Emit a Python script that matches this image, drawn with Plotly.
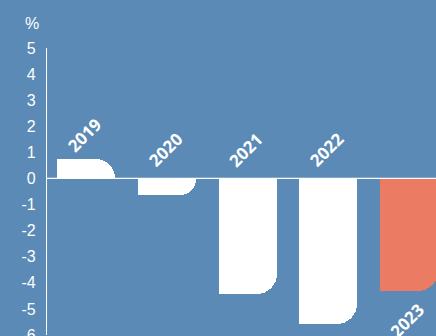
import plotly.graph_objects as go

# Annual change, %
years = ["2019", "2020", "2021", "2022", "2023"]
values = [0.75, -0.65, -4.43, -5.57, -4.31]
bar_colors = ["#ffffff", "#ffffff", "#ffffff", "#ffffff", "#ec7b63"]
y_ticks = [5, 4, 3, 2, 1, 0, -1, -2, -3, -4, -5, -6]

BG = "#5a8ab5"
BAR_W = 0.72
x_pos = list(range(len(years)))

W, H = 436, 336
M = dict(l=47, r=0, t=48, b=1)
pw, ph = W - M["l"] - M["r"], H - M["t"] - M["b"]

fig = go.Figure()

# Main bars: rounded corners at the bar end
fig.add_trace(go.Bar(
    x=x_pos, y=values,
    width=BAR_W, offset=-BAR_W / 2,
    marker=dict(color=bar_colors, line=dict(width=0), cornerradius=20),
    hoverinfo="skip", showlegend=False,
))
# Left half drawn square so only the right corner stays rounded
fig.add_trace(go.Bar(
    x=x_pos, y=values,
    width=BAR_W / 2, offset=-BAR_W / 2,
    marker=dict(color=bar_colors, line=dict(width=0)),
    hoverinfo="skip", showlegend=False,
))

# Year labels, rotated
annotations = []
for i, (yr, v) in enumerate(zip(years, values)):
    if i == len(years) - 1:
        y, shift = v, -30
    else:
        y, shift = max(v, 0), (24 if v > 0 else 29)
    annotations.append(dict(
        x=i - 0.02, y=y, xref="x", yref="y", text=yr, showarrow=False,
        textangle=-45, yshift=shift, xanchor="center", yanchor="middle",
        font=dict(family="Open Sans", size=17, color="white", weight="bold"),
    ))

# Unit label above the value axis
annotations.append(dict(
    x=(31.5 - M["l"]) / pw, y=(H - M["b"] - 23) / ph,
    xref="paper", yref="paper", text="%", showarrow=False,
    xanchor="center", yanchor="middle",
    font=dict(family="Liberation Sans, Arial", size=16, color="white"),
))

fig.update_layout(
    width=W, height=H,
    margin=M,
    paper_bgcolor=BG, plot_bgcolor=BG,
    barmode="overlay",
    bargap=0,
    annotations=annotations,
    shapes=[dict(type="line", xref="paper", yref="y", x0=0, x1=1, y0=0, y1=0,
                 line=dict(color="white", width=1.3), layer="above")],
    xaxis=dict(range=[-0.49, 4.34], showticklabels=False, showgrid=False,
               zeroline=False, showline=False, fixedrange=True, automargin=False),
    yaxis=dict(range=[-6, 5], tickvals=y_ticks, ticktext=[str(t) for t in y_ticks],
               showgrid=False, zeroline=False,
               showline=True, linecolor="white", linewidth=1.3,
               ticks="", ticklabelstandoff=7, ticklabeloverflow="allow",
               automargin=False,
               tickfont=dict(family="Liberation Sans, Arial", size=16, color="white"),
               fixedrange=True),
)

fig.write_html("out.html")
